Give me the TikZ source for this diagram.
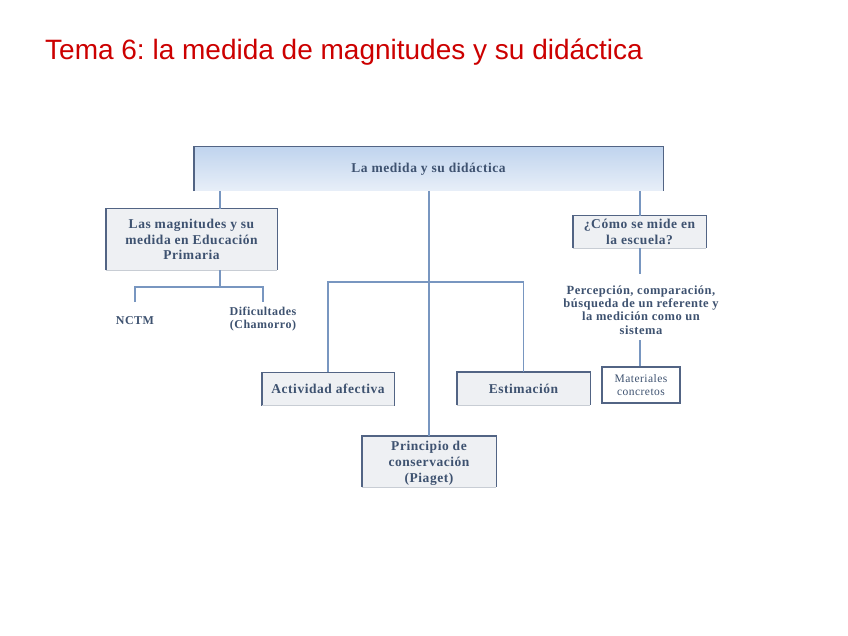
\documentclass[tikz,border=0pt]{standalone}
\usepackage{fontspec}
\setmainfont{Liberation Serif}
\newfontfamily\titlefont{Liberation Sans}
\newfontfamily\bxfont[LetterSpace=4]{Liberation Serif}
\frenchspacing
\definecolor{titlered}{RGB}{204,0,0}
\definecolor{txtblue}{RGB}{62,82,112}
\definecolor{edgeblue}{RGB}{82,100,132}
\definecolor{connblue}{RGB}{120,150,192}
\definecolor{boxgray}{RGB}{238,240,243}
\definecolor{bottomgray}{RGB}{200,205,212}
\definecolor{shadetop}{RGB}{192,212,238}
\definecolor{shadebot}{RGB}{232,239,248}
\begin{document}
\begin{tikzpicture}[x=1pt,y=-1pt,
  boxtxt/.style={text=txtblue,font=\bxfont\bfseries\fontsize{13.5}{15.5}\selectfont,align=center,inner sep=0pt},
  gbox/.style={boxtxt,fill=boxgray,draw=none},
  conn/.style={draw=connblue,line width=1.2pt},
  side/.style={draw=edgeblue,line width=1.4pt},
  freetxt/.style={boxtxt}]
\useasboundingbox (0,0) rectangle (848,636);
\fill[white] (0,0) rectangle (848,636);

\node[anchor=base west,inner sep=0pt,text=titlered,font=\titlefont\fontsize{28}{32}\selectfont] (title) at (45,60) {Tema 6: la medida de magnitudes y su didáctica};

% boxes
\node[boxtxt,top color=shadetop,bottom color=shadebot,minimum width=469pt,minimum height=44pt] (main) at (428.5,169) {La medida y su didáctica};
\node[gbox,minimum width=171pt,minimum height=61pt] (mag) at (191.5,239.5) {\raisebox{-5.4pt}[0pt][0pt]{\begin{tabular}{@{}c@{}}Las magnitudes y su\\medida en Educación\\Primaria\end{tabular}}};
\node[gbox,minimum width=133pt,minimum height=32pt] (como) at (639.5,232) {¿Cómo se mide en\\la escuela?};
\node[gbox,minimum width=132pt,minimum height=33pt] (act) at (328,389) {Actividad afectiva};
\node[gbox,minimum width=133pt,minimum height=33pt] (est) at (523.5,388.5) {Estimación};
\node[gbox,font=\bxfont\bfseries\fontsize{13.5}{16}\selectfont,minimum width=134pt,minimum height=51pt] (prin) at (429,461.5) {\raisebox{-5pt}[0pt][0pt]{\begin{tabular}{@{}c@{}}Principio de\\conservación\\(Piaget)\end{tabular}}};
\node[boxtxt,font=\bxfont\fontsize{11.5}{13.5}\selectfont,draw=edgeblue,line width=1.2pt,fill=white,minimum width=78pt,minimum height=36pt] (mat) at (641,385) {Materiales\\concretos};

% free texts
\node[freetxt,font=\bxfont\bfseries\fontsize{12}{13}\selectfont] (nctm) at (135,321) {NCTM};
\node[freetxt,font=\bxfont\bfseries\fontsize{12}{13}\selectfont] (dif) at (263,319.5) {Dificultades\\(Chamorro)};
\node[freetxt,font=\bxfont\bfseries\fontsize{12.5}{13.3}\selectfont] (perc) at (641,310) {Percepción, comparación,\\búsqueda de un referente y\\la medición como un\\sistema};

% box sides
\foreach \n in {main,mag,como,act,est,prin}{
  \draw[side] (\n.south west) -- (\n.north west) -- (\n.north east) -- (\n.south east);
}
\foreach \n in {mag,como,act,est,prin}{
  \draw[draw=bottomgray,line width=0.6pt] (\n.south west) -- (\n.south east);
}

% connectors
\coordinate (magtop) at (220,209);
\draw[conn] (magtop |- main.south) -- (magtop);
\draw[conn] (main.south -| prin.north) -- (prin.north);
\draw[conn] (main.south -| 640,0) -- (como.north -| 640,0);

\coordinate (lj) at (220,287);
\coordinate (nctmtop) at (135,302);
\coordinate (diftop) at (263,302);
\draw[conn] (lj |- mag.south) -- (lj);
\draw[conn] (nctmtop) -- (nctmtop |- lj) -- (diftop |- lj) -- (diftop);

\coordinate (mj) at (0,282);
\draw[conn] (act.north) -- (act.north |- mj) -- (est.north |- mj) -- (est.north);

\coordinate (perctop) at (640,274);
\coordinate (percbot) at (640,340);
\draw[conn] (como.south -| perctop) -- (perctop);
\draw[conn] (percbot) -- (mat.north -| percbot);
\end{tikzpicture}
\end{document}
